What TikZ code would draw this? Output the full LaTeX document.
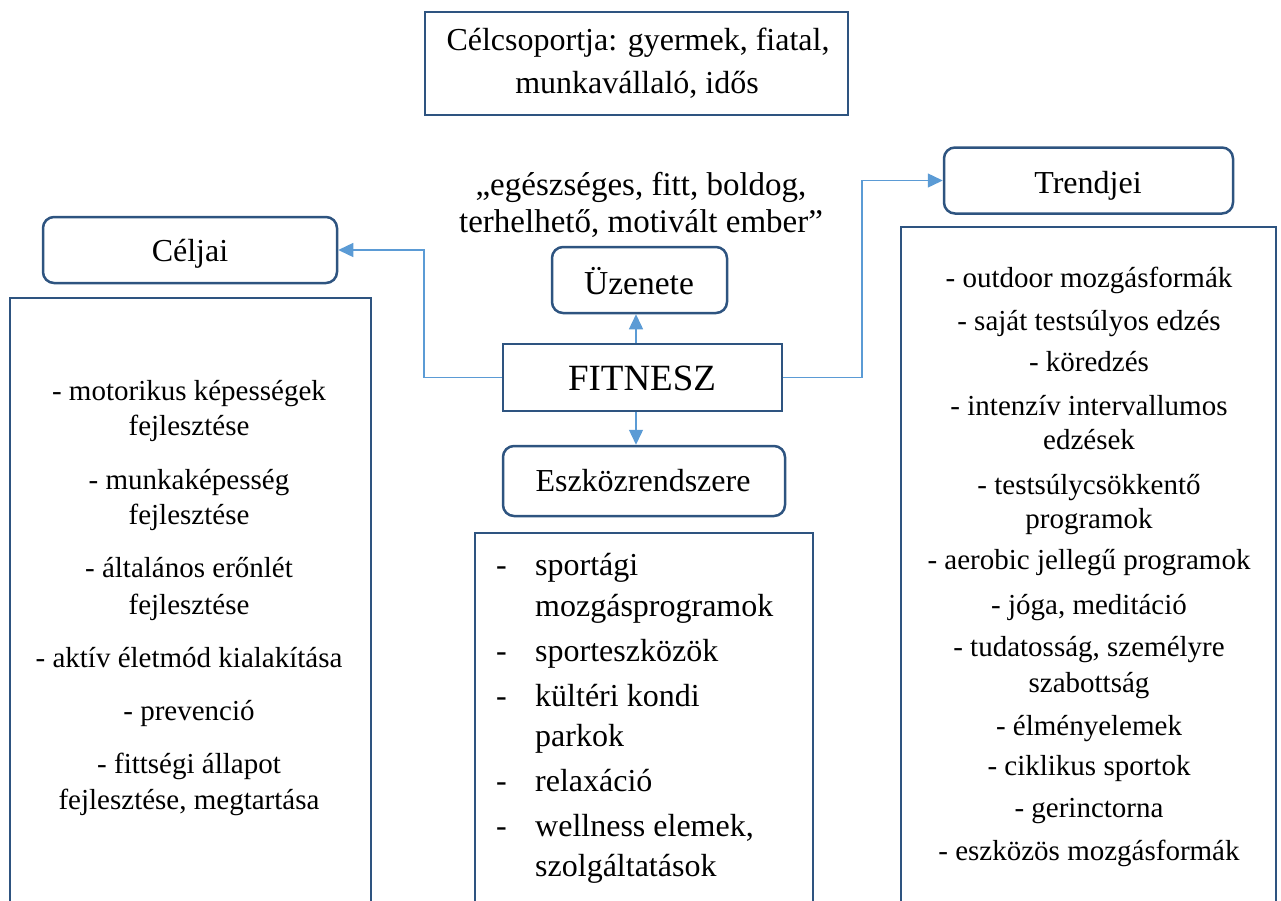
\documentclass[tikz,border=0pt]{standalone}
\usepackage{fontspec}
\setmainfont{Liberation Serif}
\usetikzlibrary{arrows.meta}
\definecolor{boxblue}{RGB}{46,84,128}
\definecolor{arrblue}{RGB}{91,155,213}
\begin{document}
\begin{tikzpicture}[x=1pt,y=-1pt,
  txt/.style={font=\fontsize{29}{34}\selectfont, inner sep=0pt, anchor=base},
  midtxt/.style={font=\fontsize{32}{38}\selectfont, inner sep=0pt, anchor=base west},
  headtxt/.style={font=\fontsize{32}{38}\selectfont, inner sep=0pt, anchor=base},
  bigtxt/.style={font=\fontsize{37}{44}\selectfont, inner sep=0pt, anchor=base},
  sqbox/.style={draw=boxblue, line width=2.5pt, inner sep=0pt},
  rbox/.style={draw=boxblue, line width=2.5pt, rounded corners=11pt, inner sep=0pt},
  conn/.style={draw=arrblue, line width=1.4pt, -{Triangle[length=15pt,width=14pt]}}]
\useasboundingbox (0,0) rectangle (1281,900);
\clip (0,0) rectangle (1281,900);

% boxes
\node[sqbox, minimum width=423pt, minimum height=103pt] (cel) at (636.5,63.5) {};
\node[rbox, minimum width=294pt, minimum height=66pt] (celjai) at (190,250) {};
\node[rbox, minimum width=289pt, minimum height=66pt] (trend) at (1088.5,180.5) {};
\node[rbox, minimum width=175pt, minimum height=66pt] (uzen) at (639.5,280) {};
\node[sqbox, minimum width=279pt, minimum height=67pt] (fit) at (642.5,377.5) {};
\node[rbox, minimum width=282pt, minimum height=70pt] (eszk) at (644,481) {};
\node[sqbox, minimum width=361pt, minimum height=652pt] (leftbig) at (190.5,624) {};
\node[sqbox, minimum width=338pt, minimum height=417pt] (midbig) at (644,741.5) {};
\node[sqbox, minimum width=375pt, minimum height=723pt] (rightbig) at (1088.5,588.5) {};

% texts
\node[headtxt] (cel1) at (638,50) {Célcsoportja: gyermek, fiatal,};
\node[headtxt] (cel2) at (637,93) {munkavállaló, idős};
\node[headtxt, font=\fontsize{33}{38}\selectfont] (q1) at (641,195) {„egészséges, fitt, boldog,};
\node[headtxt, font=\fontsize{33}{38}\selectfont] (q2) at (641,232) {terhelhető, motivált ember”};
\node[headtxt] (tceljai) at (190,261) {Céljai};
\node[headtxt] (ttrend) at (1088,193) {Trendjei};
\node[headtxt, font=\fontsize{33.5}{38}\selectfont] (tuzen) at (639,294) {Üzenete};
\node[bigtxt] (tfit) at (642,390) {FITNESZ};
\node[headtxt] (teszk) at (643,491) {Eszközrendszere};

% left list
\foreach \t/\y [count=\i] in {
  {- motorikus képességek}/400, {fejlesztése}/435,
  {- munkaképesség}/489, {fejlesztése}/524,
  {- általános erőnlét}/577, {fejlesztése}/614,
  {- aktív életmód kialakítása}/667,
  {- prevenció}/720,
  {- fittségi állapot}/773, {fejlesztése, megtartása}/809}
  {\node[txt] (L\i) at (189,\y) {\t};}

% right list
\foreach \t/\y [count=\i] in {
  {- outdoor mozgásformák}/287,
  {- saját testsúlyos edzés}/330,
  {- köredzés}/371,
  {- intenzív intervallumos}/415, {edzések}/449,
  {- testsúlycsökkentő}/494, {programok}/528,
  {- aerobic jellegű programok}/569,
  {- jóga, meditáció}/614,
  {- tudatosság, személyre}/656, {szabottság}/692,
  {- élményelemek}/735,
  {- ciklikus sportok}/775,
  {- gerinctorna}/817,
  {- eszközös mozgásformák}/860}
  {\node[txt] (R\i) at (1089,\y) {\t};}

% middle list
\foreach \t/\y [count=\i] in {
  {sportági}/575, {mozgásprogramok}/616,
  {sporteszközök}/661,
  {kültéri kondi}/706, {parkok}/746,
  {relaxáció}/791,
  {wellness elemek,}/836, {szolgáltatások}/876}
  {\node[midtxt] (M\i) at (535,\y) {\t};}
\foreach \y [count=\i] in {575,661,706,791,836}
  {\node[midtxt] (D\i) at (496,\y) {-};}

% connectors
\coordinate (ax) at (636,0);
\draw[conn] (fit.west) -- (424,377.5) |- (celjai.east);
\draw[conn] (fit.east) -- (862,377.5) |- (trend.west);
\draw[conn] (fit.north -| ax) -- (uzen.south -| ax);
\draw[conn] (fit.south -| ax) -- (eszk.north -| ax);
\end{tikzpicture}
\end{document}
